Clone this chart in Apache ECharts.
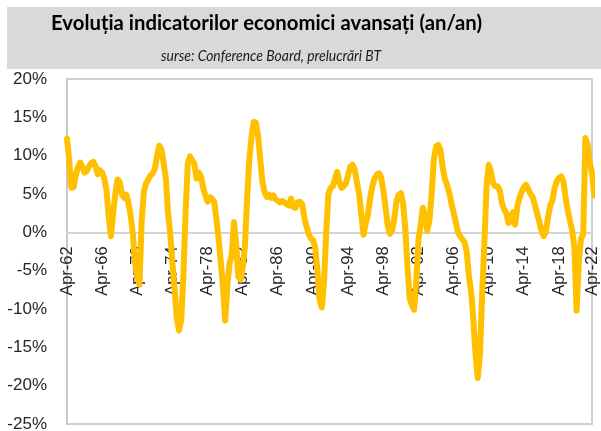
<!DOCTYPE html>
<html>
<head>
<meta charset="utf-8">
<script src="https://cdn.jsdelivr.net/npm/echarts@6/dist/echarts.min.js"></script>
<style>
html,body{margin:0;padding:0;background:#fff;}
#c{width:601px;height:431px;}
</style>
</head>
<body>
<div id="c"></div>
<script>
// Quarterly observations, Apr-62 .. Apr-22 (year-on-year change, %)
var months = ['Apr','Jul','Oct','Jan'];
var categories = [];
for (var y = 1962; y <= 2022; y++) {
  for (var q = 0; q < 4; q++) {
    var yr = (q === 3) ? y + 1 : y;
    if (yr > 2022 || (yr === 2022 && q > 0)) continue;
    categories.push(months[q] + '-' + String(yr % 100).padStart(2, '0'));
  }
}
var leiYoY = [
  12.2, 9.5, 5.8, 5.9,
  7.5, 8.5, 9.1, 8.5,
  7.8, 8.0, 8.6, 9.0,
  9.2, 8.6, 7.6, 8.1,
  7.8, 7.0, 5.5, 2.0,
  -0.5, 2.5, 5.0, 6.9,
  6.6, 5.0, 4.5, 4.9,
  3.8, 2.2, -0.3, -4.0,
  -6.0, -6.8, 1.5, 5.3,
  6.4, 6.9, 7.4, 7.7,
  8.3, 10.0, 11.3, 10.8,
  9.0, 7.0, 2.5, -0.2,
  -4.0, -7.5, -11.2, -12.8,
  -11.5, -5.5, 2.7, 9.0,
  9.9, 9.4, 8.9, 7.0,
  7.8, 7.3, 5.8, 4.8,
  4.0, 4.6, 4.4, 4.0,
  1.8, -0.8, -3.8, -7.0,
  -11.5, -7.0, -4.0, -3.0,
  1.3, -1.5, -5.8, -6.2,
  -4.5, -1.8, 4.5, 9.5,
  12.5, 14.4, 14.3, 12.5,
  9.5, 6.5, 5.2, 4.6,
  4.9, 4.5, 4.8, 4.3,
  4.1, 3.9, 4.1, 3.9,
  3.7, 3.5, 4.4, 3.3,
  3.2, 3.9, 4.0, 3.7,
  2.0, 0.8, -0.2, -0.8,
  -1.0, -2.0, -5.0, -8.8,
  -9.8, -6.5, 0.0, 5.0,
  5.8, 6.0, 7.0, 7.9,
  6.5, 5.8, 6.0, 6.4,
  7.5, 8.6, 8.8, 8.2,
  6.5, 5.0, 2.3, -0.3,
  1.2, 2.3, 4.5, 6.0,
  7.0, 7.5, 7.7, 7.2,
  5.5, 3.3, 0.9, -0.2,
  0.2, 1.8, 4.0, 4.9,
  5.1, 3.8, 0.5, -4.5,
  -8.6, -9.5, -10.1, -6.5,
  -1.0, 1.0, 3.2, 2.0,
  0.2, 1.5, 5.0, 9.5,
  11.2, 11.4, 10.8, 8.5,
  7.0, 6.2, 5.2, 3.8,
  2.6, 1.3, 0.0, -0.5,
  -0.9, -1.3, -2.6, -5.8,
  -7.8, -11.5, -16.0, -19.0,
  -16.0, -8.0, -1.5, 6.0,
  8.8, 7.9, 6.4, 6.0,
  6.0, 5.5, 3.8, 3.0,
  2.5, 1.2, 1.4, 2.6,
  1.0, 3.4, 4.5, 5.3,
  5.9, 6.2, 5.6, 5.0,
  4.6, 3.6, 2.5, 1.4,
  0.2, -0.5, 0.1, 2.0,
  3.5, 4.2, 5.8, 6.7,
  7.1, 7.3, 6.6, 4.5,
  2.8, 1.5, 0.2, -2.0,
  -10.2, -3.8, -0.8, -0.3,
  12.3, 11.5, 9.0, 7.8,
  4.8
];
var tickLabels = ['Apr-62','Apr-66','Apr-70','Apr-74','Apr-78','Apr-82','Apr-86','Apr-90','Apr-94','Apr-98','Apr-02','Apr-06','Apr-10','Apr-14','Apr-18','Apr-22'];
var titleText = 'Evoluția indicatorilor economici avansați (an/an)';
var subtitleText = 'surse: Conference Board, prelucrări BT';

var Y_MIN = -25, Y_MAX = 20;
var GRID = {left: 67, right: 9, top: 79, bottom: 7};
var plotH = 431 - GRID.top - GRID.bottom;
var zeroFromBottom = plotH * (0 - Y_MIN) / (Y_MAX - Y_MIN);

var titleFont = 'bold 21px Lato, "Liberation Sans", sans-serif';
var subFont = 'italic 16px Lato, "Liberation Sans", sans-serif';
function fitScale(text, font, target) {
  var ctx = document.createElement('canvas').getContext('2d');
  ctx.font = font;
  var w = ctx.measureText(text).width;
  return w > 0 ? target / w : 1;
}
var titleScale = fitScale(titleText, titleFont, 431);
var subScale = fitScale(subtitleText, subFont, 220);

var chart = echarts.init(document.getElementById('c'), null, {renderer: 'canvas'});
chart.setOption({
  animation: false,
  backgroundColor: '#ffffff',
  graphic: [
    {type: 'rect', left: 7, top: 7, shape: {width: 594, height: 62}, style: {fill: '#d9d9d9'}, z: 0},
    {type: 'text', x: 266.5, y: 23, scaleX: titleScale, style: {text: titleText, textAlign: 'center', textVerticalAlign: 'middle',
      font: titleFont, fill: '#000'}, z: 1},
    {type: 'text', x: 271, y: 56, scaleX: subScale, style: {text: subtitleText, textAlign: 'center', textVerticalAlign: 'middle',
      font: subFont, fill: '#1a1a1a'}, z: 1}
  ],
  grid: {left: GRID.left, right: GRID.right, top: GRID.top, bottom: GRID.bottom, show: true,
    borderColor: '#d0d0d0', borderWidth: 2, containLabel: false, outerBoundsMode: 'none'},
  xAxis: {
    type: 'category',
    data: categories,
    boundaryGap: false,
    offset: -zeroFromBottom,
    axisLine: {onZero: false, lineStyle: {color: '#d4d4d4', width: 2}},
    axisTick: {show: false},
    splitLine: {show: false},
    axisLabel: {
      rotate: 90,
      margin: 14,
      interval: function (idx, val) { return tickLabels.indexOf(val) >= 0; },
      fontFamily: '"Liberation Sans", Arial, sans-serif',
      fontSize: 16.5,
      color: '#262626'
    }
  },
  yAxis: {
    type: 'value',
    min: Y_MIN, max: Y_MAX, interval: 5,
    axisLine: {show: true, lineStyle: {color: '#c8c8c8', width: 2}},
    axisTick: {show: false},
    splitLine: {show: false},
    axisLabel: {
      formatter: '{value}%',
      margin: 20,
      fontFamily: '"Liberation Sans", Arial, sans-serif',
      fontSize: 17,
      color: '#262626'
    }
  },
  series: [{
    type: 'line',
    data: leiYoY,
    showSymbol: false,
    smooth: false,
    lineStyle: {color: '#FFC000', width: 6, cap: 'round', join: 'round'},
    z: 3
  }]
});
</script>
</body>
</html>
